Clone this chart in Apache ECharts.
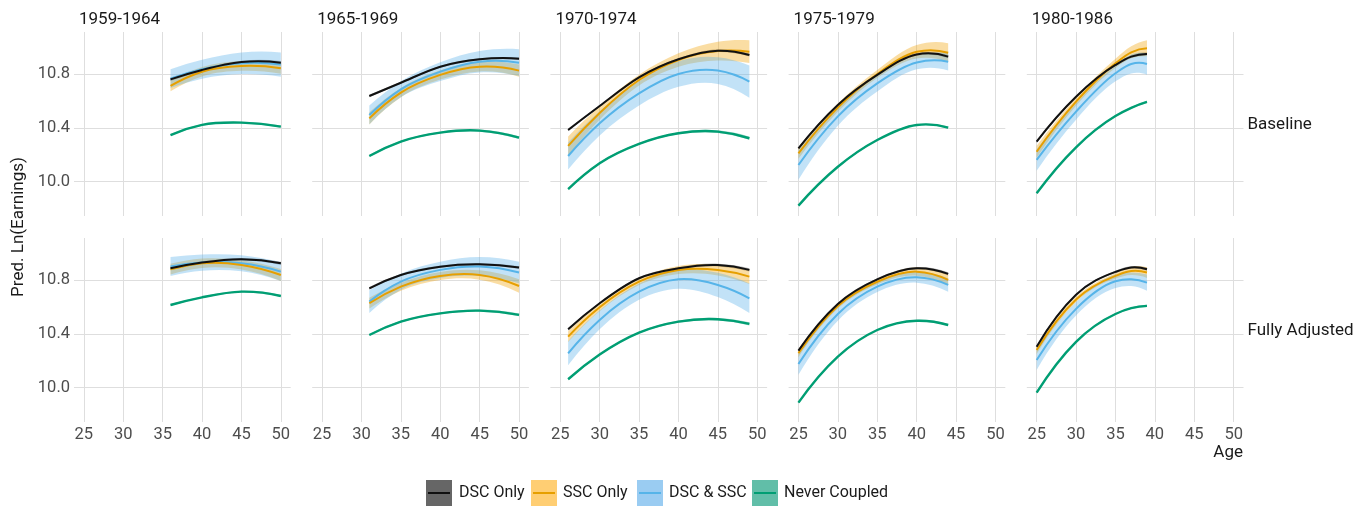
<!DOCTYPE html>
<html><head><meta charset="utf-8">
<script src="https://cdn.jsdelivr.net/npm/echarts@6/dist/echarts.min.js"></script>
<style>html,body{margin:0;padding:0;background:#fff}#c{width:1369px;height:509px}</style>
</head><body><div id="c"></div>
<script>
// ---------- categories / ticks ----------
const cohorts = ['1959-1964','1965-1969','1970-1974','1975-1979','1980-1986'];
const models = ['Baseline','Fully Adjusted'];
const seriesNames = ['DSC Only','SSC Only','DSC & SSC','Never Coupled'];
const xTicks = [25,30,35,40,45,50];
const yTicks = [10.0,10.4,10.8];

// ---------- ages observed per cohort ----------
const ages1959 = [36,40,45,50];
const ages1965 = [31,35,40,45,50];
const ages1970 = [26,30,35,40,45,49];
const ages1975 = [25,30,35,40,44];
const ages1980 = [25,30,35,37,39];

// ---------- Baseline: predicted ln(earnings) ----------
const b1959_dsc   = [10.76,10.83,10.889,10.884];
const b1959_ssc   = [10.711,10.817,10.859,10.842];
const b1959_both  = [10.765,10.835,10.88,10.87];
const b1959_never = [10.346,10.421,10.438,10.408];

const b1965_dsc   = [10.636,10.735,10.854,10.909,10.914];
const b1965_ssc   = [10.47,10.661,10.793,10.854,10.825];
const b1965_both  = [10.495,10.686,10.817,10.891,10.884];
const b1965_never = [10.19,10.297,10.364,10.379,10.326];

const b1970_dsc   = [10.384,10.562,10.775,10.909,10.973,10.941];
const b1970_ssc   = [10.265,10.51,10.755,10.904,10.97,10.966];
const b1970_both  = [10.19,10.433,10.656,10.8,10.825,10.743];
const b1970_never = [9.943,10.136,10.28,10.359,10.371,10.322];

const b1975_dsc   = [10.247,10.57,10.793,10.945,10.929];
const b1975_ssc   = [10.21,10.55,10.8,10.965,10.958];
const b1975_both  = [10.123,10.485,10.73,10.885,10.891];
const b1975_never = [9.821,10.11,10.309,10.421,10.401];

const b1980_dsc   = [10.297,10.631,10.867,10.929,10.949];
const b1980_ssc   = [10.222,10.594,10.879,10.961,10.991];
const b1980_both  = [10.161,10.52,10.805,10.874,10.874];
const b1980_never = [9.913,10.255,10.487,10.548,10.592];

// ---------- Fully adjusted: predicted ln(earnings) ----------
const f1959_dsc   = [10.887,10.929,10.954,10.924];
const f1959_ssc   = [10.88,10.924,10.912,10.837];
const f1959_both  = [10.9,10.929,10.924,10.862];
const f1959_never = [10.614,10.671,10.713,10.681];

const f1965_dsc   = [10.738,10.837,10.899,10.916,10.892];
const f1965_ssc   = [10.627,10.75,10.83,10.837,10.755];
const f1965_both  = [10.639,10.787,10.875,10.9,10.855];
const f1965_never = [10.391,10.49,10.552,10.572,10.54];

const f1970_dsc   = [10.433,10.627,10.813,10.887,10.911,10.875];
const f1970_ssc   = [10.379,10.597,10.787,10.874,10.874,10.825];
const f1970_both  = [10.255,10.503,10.713,10.805,10.763,10.664];
const f1970_never = [10.062,10.245,10.408,10.49,10.508,10.473];

const f1975_dsc   = [10.275,10.622,10.805,10.887,10.845];
const f1975_ssc   = [10.255,10.607,10.787,10.862,10.8];
const f1975_both  = [10.175,10.547,10.75,10.82,10.763];
const f1975_never = [9.888,10.23,10.428,10.497,10.465];

const f1980_dsc   = [10.304,10.69,10.86,10.893,10.88];
const f1980_ssc   = [10.279,10.655,10.83,10.866,10.855];
const f1980_both  = [10.205,10.585,10.79,10.805,10.78];
const f1980_never = [9.962,10.34,10.547,10.59,10.607];

// ---------- confidence half-widths (Baseline) ----------
const b1959_dsc_ci   = [0.012,0.01,0.01,0.012];
const b1959_ssc_ci   = [0.04,0.035,0.035,0.04];
const b1959_both_ci  = [0.07,0.07,0.08,0.09];
const b1959_never_ci = [0.008,0.006,0.006,0.008];

const b1965_dsc_ci   = [0.01,0.008,0.008,0.008,0.01];
const b1965_ssc_ci   = [0.045,0.035,0.035,0.035,0.045];
const b1965_both_ci  = [0.07,0.06,0.07,0.08,0.1];
const b1965_never_ci = [0.008,0.006,0.006,0.008,0.01];

const b1970_dsc_ci   = [0.01,0.008,0.008,0.008,0.01,0.012];
const b1970_ssc_ci   = [0.07,0.05,0.04,0.05,0.07,0.085];
const b1970_both_ci  = [0.1,0.09,0.09,0.095,0.1,0.12];
const b1970_never_ci = [0.008,0.006,0.006,0.008,0.01,0.012];

const b1975_dsc_ci   = [0.01,0.008,0.008,0.01,0.012];
const b1975_ssc_ci   = [0.04,0.03,0.03,0.05,0.07];
const b1975_both_ci  = [0.11,0.07,0.06,0.05,0.065];
const b1975_never_ci = [0.006,0.005,0.005,0.006,0.008];

const b1980_dsc_ci   = [0.01,0.008,0.008,0.01,0.012];
const b1980_ssc_ci   = [0.045,0.03,0.035,0.045,0.06];
const b1980_both_ci  = [0.08,0.06,0.06,0.07,0.08];
const b1980_never_ci = [0.006,0.005,0.005,0.006,0.008];

// ---------- confidence half-widths (Fully adjusted) ----------
const f1959_dsc_ci   = [0.012,0.01,0.01,0.012];
const f1959_ssc_ci   = [0.04,0.035,0.035,0.045];
const f1959_both_ci  = [0.07,0.06,0.06,0.07];
const f1959_never_ci = [0.008,0.006,0.006,0.008];

const f1965_dsc_ci   = [0.01,0.008,0.008,0.008,0.01];
const f1965_ssc_ci   = [0.04,0.03,0.03,0.035,0.05];
const f1965_both_ci  = [0.085,0.06,0.06,0.07,0.08];
const f1965_never_ci = [0.008,0.006,0.006,0.008,0.01];

const f1970_dsc_ci   = [0.01,0.008,0.008,0.008,0.01,0.012];
const f1970_ssc_ci   = [0.04,0.03,0.025,0.03,0.04,0.055];
const f1970_both_ci  = [0.09,0.07,0.06,0.07,0.09,0.11];
const f1970_never_ci = [0.008,0.006,0.006,0.008,0.01,0.012];

const f1975_dsc_ci   = [0.01,0.008,0.008,0.01,0.012];
const f1975_ssc_ci   = [0.03,0.02,0.02,0.03,0.04];
const f1975_both_ci  = [0.08,0.05,0.04,0.04,0.05];
const f1975_never_ci = [0.006,0.005,0.005,0.006,0.008];

const f1980_dsc_ci   = [0.01,0.008,0.008,0.01,0.012];
const f1980_ssc_ci   = [0.03,0.02,0.02,0.03,0.04];
const f1980_both_ci  = [0.075,0.05,0.05,0.05,0.06];
const f1980_never_ci = [0.006,0.005,0.005,0.006,0.008];

// ---------- assemble (lookup tables built from the arrays above) ----------
const agesBy = [ages1959, ages1965, ages1970, ages1975, ages1980];
const meanBy = [
  [[b1959_dsc,b1959_ssc,b1959_both,b1959_never],[b1965_dsc,b1965_ssc,b1965_both,b1965_never],
   [b1970_dsc,b1970_ssc,b1970_both,b1970_never],[b1975_dsc,b1975_ssc,b1975_both,b1975_never],
   [b1980_dsc,b1980_ssc,b1980_both,b1980_never]],
  [[f1959_dsc,f1959_ssc,f1959_both,f1959_never],[f1965_dsc,f1965_ssc,f1965_both,f1965_never],
   [f1970_dsc,f1970_ssc,f1970_both,f1970_never],[f1975_dsc,f1975_ssc,f1975_both,f1975_never],
   [f1980_dsc,f1980_ssc,f1980_both,f1980_never]]
];
const ciBy = [
  [[b1959_dsc_ci,b1959_ssc_ci,b1959_both_ci,b1959_never_ci],[b1965_dsc_ci,b1965_ssc_ci,b1965_both_ci,b1965_never_ci],
   [b1970_dsc_ci,b1970_ssc_ci,b1970_both_ci,b1970_never_ci],[b1975_dsc_ci,b1975_ssc_ci,b1975_both_ci,b1975_never_ci],
   [b1980_dsc_ci,b1980_ssc_ci,b1980_both_ci,b1980_never_ci]],
  [[f1959_dsc_ci,f1959_ssc_ci,f1959_both_ci,f1959_never_ci],[f1965_dsc_ci,f1965_ssc_ci,f1965_both_ci,f1965_never_ci],
   [f1970_dsc_ci,f1970_ssc_ci,f1970_both_ci,f1970_never_ci],[f1975_dsc_ci,f1975_ssc_ci,f1975_both_ci,f1975_never_ci],
   [f1980_dsc_ci,f1980_ssc_ci,f1980_both_ci,f1980_never_ci]]
];

// ---------- styling ----------
const lineColors = ['#111111','#E69F00','#56B4E9','#009E73'];
const bandColors = ['rgba(0,0,0,0.28)','rgba(240,160,0,0.36)','rgba(86,175,233,0.36)','rgba(0,158,115,0.35)'];
const keyColors  = ['rgba(0,0,0,0.6)','rgba(255,180,40,0.65)','rgba(86,170,233,0.6)','rgba(0,150,115,0.62)'];
const FONT = 'Roboto, "Noto Sans", sans-serif';

const L0 = 74, STEP = 238.2, W = 216.7, H = 184, TOPS = [32, 238];
const XMIN = 23.75, XMAX = 51.25, YMIN = 9.744, YMAX = 11.112;

// smooth cubic (Hermite with three-point parabolic slopes) through points projected by the axes
function curveCmds(p) {
  const n = p.length, m = new Array(n);
  const sl = (i, j) => (p[j][1] - p[i][1]) / (p[j][0] - p[i][0]);
  if (n === 2) { m[0] = m[1] = sl(0, 1); }
  else {
    for (let i = 1; i < n - 1; i++) {
      const h0 = p[i][0] - p[i - 1][0], h1 = p[i + 1][0] - p[i][0];
      m[i] = (h1 * sl(i - 1, i) + h0 * sl(i, i + 1)) / (h0 + h1);
    }
    let h0 = p[1][0] - p[0][0], h1 = p[2][0] - p[1][0];
    m[0] = ((2 * h0 + h1) * sl(0, 1) - h0 * sl(1, 2)) / (h0 + h1);
    h0 = p[n - 2][0] - p[n - 3][0]; h1 = p[n - 1][0] - p[n - 2][0];
    m[n - 1] = ((h0 + 2 * h1) * sl(n - 2, n - 1) - h1 * sl(n - 3, n - 2)) / (h0 + h1);
  }
  const out = [];
  for (let i = 0; i < n - 1; i++) {
    const h = p[i + 1][0] - p[i][0];
    out.push('C' + (p[i][0] + h / 3) + ' ' + (p[i][1] + m[i] * h / 3) + ' ' +
             (p[i + 1][0] - h / 3) + ' ' + (p[i + 1][1] - m[i + 1] * h / 3) + ' ' +
             p[i + 1][0] + ' ' + p[i + 1][1]);
  }
  return out.join(' ');
}

const grids = [], xAxes = [], yAxes = [], series = [], graphics = [];
for (let r = 0; r < 2; r++) {
  for (let c = 0; c < 5; c++) {
    const g = r * 5 + c;
    grids.push({left: L0 + c * STEP, top: TOPS[r], width: W, height: H, containLabel: false});
    xAxes.push({
      gridIndex: g, type: 'value', min: XMIN, max: XMAX,
      axisLine: {show: false},
      axisTick: {show: false, customValues: xTicks},
      axisLabel: {show: r === 1, customValues: xTicks, color: '#4d4d4d', fontSize: 16.5, fontFamily: FONT, margin: 4},
      splitLine: {show: true, lineStyle: {color: '#dedede', width: 1}}
    });
    yAxes.push({
      gridIndex: g, type: 'value', min: YMIN, max: YMAX,
      axisLine: {show: false},
      axisTick: {show: false, customValues: yTicks},
      axisLabel: {show: c === 0, customValues: yTicks, color: '#4d4d4d', fontSize: 16.5, fontFamily: FONT, margin: 4,
                  formatter: v => v.toFixed(1)},
      splitLine: {show: true, lineStyle: {color: '#dedede', width: 1}}
    });
    const ages = agesBy[c];
    // confidence ribbons
    for (let s = 0; s < 4; s++) {
      const m = meanBy[r][c][s], ci = ciBy[r][c][s];
      const rows = ages.map((a, i) => [a, m[i] - ci[i], m[i] + ci[i]]);
      const fill = bandColors[s];
      series.push({
        type: 'custom', xAxisIndex: g, yAxisIndex: g, silent: true, z: 1,
        data: rows, encode: {x: 0, y: [1, 2]},
        renderItem: (params, api) => {
          if (params.dataIndex !== 0) return null;
          const up = rows.map(d => api.coord([d[0], d[2]]));
          const lo = rows.map(d => api.coord([d[0], d[1]])).reverse();
          const d = 'M' + up[0][0] + ' ' + up[0][1] + ' ' + curveCmds(up) +
                    ' L' + lo[0][0] + ' ' + lo[0][1] + ' ' + curveCmds(lo) + ' Z';
          return {type: 'path', shape: {pathData: d}, style: {fill: fill, stroke: null}};
        }
      });
    }
    // mean lines, drawn never -> both -> ssc -> dsc
    [3, 2, 1, 0].forEach(s => {
      const m = meanBy[r][c][s];
      const rows = ages.map((a, i) => [a, m[i]]);
      const col = lineColors[s], lw = s === 3 ? 2.4 : 2;
      series.push({
        type: 'custom', xAxisIndex: g, yAxisIndex: g, silent: true, z: 3 + (3 - s),
        data: rows, encode: {x: 0, y: 1},
        renderItem: (params, api) => {
          if (params.dataIndex !== 0) return null;
          const pts = rows.map(d => api.coord(d));
          const d = 'M' + pts[0][0] + ' ' + pts[0][1] + ' ' + curveCmds(pts);
          return {type: 'path', shape: {pathData: d},
                  style: {fill: null, stroke: col, lineWidth: lw, lineCap: 'butt', lineJoin: 'round'}};
        }
      });
    });
  }
  // row strip label
  graphics.push({type: 'text', x: L0 + 4 * STEP + W + 4, y: TOPS[r] + H / 2 + 1,
    style: {text: models[r], font: '17px ' + FONT, fill: '#1a1a1a', verticalAlign: 'middle'}});
}
cohorts.forEach((t, c) => {
  graphics.push({type: 'text', x: L0 + c * STEP + 5, y: 20,
    style: {text: t, font: '17px ' + FONT, fill: '#1a1a1a', verticalAlign: 'middle'}});
});
// axis titles
graphics.push({type: 'text', x: 19, y: 227, rotation: Math.PI / 2,
  style: {text: 'Pred. Ln(Earnings)', font: '17px ' + FONT, fill: '#1a1a1a', align: 'center', verticalAlign: 'middle'}});
graphics.push({type: 'text', x: 1243, y: 453,
  style: {text: 'Age', font: '17px ' + FONT, fill: '#1a1a1a', align: 'right', verticalAlign: 'middle'}});
// legend
const keyX = [426, 531, 637, 752], textX = [459, 563, 669, 784];
seriesNames.forEach((n, s) => {
  graphics.push({type: 'rect', shape: {x: keyX[s], y: 480, width: 26, height: 26}, style: {fill: keyColors[s]}});
  graphics.push({type: 'line', shape: {x1: keyX[s] + 2, y1: 493, x2: keyX[s] + 24, y2: 493},
    style: {stroke: lineColors[s], lineWidth: 2}});
  graphics.push({type: 'text', x: textX[s], y: 493,
    style: {text: n, font: '16px ' + FONT, fill: '#1a1a1a', verticalAlign: 'middle'}});
});

const chart = echarts.init(document.getElementById('c'), null, {renderer: 'canvas'});
chart.setOption({
  animation: false,
  backgroundColor: '#ffffff',
  grid: grids, xAxis: xAxes, yAxis: yAxes, series: series, graphic: graphics
});
</script></body></html>
